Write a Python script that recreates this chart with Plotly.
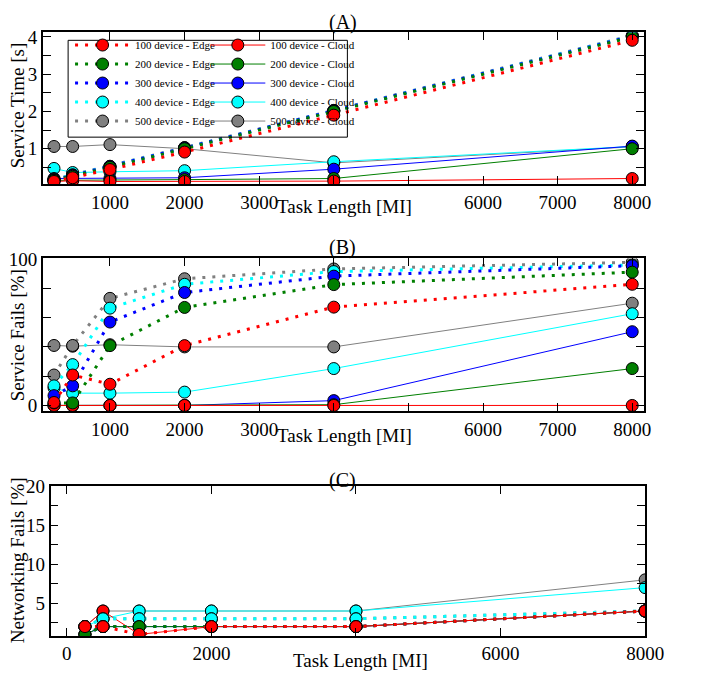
import plotly.graph_objects as go

# ---------------- data ----------------
task_length = [250, 500, 1000, 2000, 4000, 8000]
devices = ["100", "200", "300", "400", "500"]
colors = {"100": "#ff0000", "200": "#007f00", "300": "#0000ff", "400": "#00ffff", "500": "#808080"}

# (A) Service Time [s]
time_edge_100 = [0.12, 0.22, 0.44, 0.91, 1.90, 3.91]
time_edge_200 = [0.15, 0.26, 0.50, 1.00, 2.00, 4.00]
time_edge_300 = [0.16, 0.28, 0.52, 1.02, 2.02, 4.02]
time_edge_400 = [0.17, 0.29, 0.52, 1.02, 2.02, 4.03]
time_edge_500 = [0.18, 0.30, 0.53, 1.03, 2.03, 4.04]
time_cloud_100 = [0.12, 0.14, 0.12, 0.12, 0.13, 0.20]
time_cloud_200 = [0.15, 0.16, 0.16, 0.17, 0.20, 1.00]
time_cloud_300 = [0.20, 0.20, 0.20, 0.22, 0.45, 1.07]
time_cloud_400 = [0.47, 0.36, 0.38, 0.41, 0.65, 1.06]
time_cloud_500 = [1.06, 1.06, 1.11, 1.00, 0.62, 1.05]

# (B) Service Fails [%]
fail_edge_100 = [2.0, 20.8, 14.5, 40.9, 67.2, 82.8]
fail_edge_200 = [1.7, 1.7, 40.9, 67.0, 82.6, 91.1]
fail_edge_300 = [6.7, 13.4, 57.0, 77.2, 88.4, 95.5]
fail_edge_400 = [13.4, 27.9, 66.5, 82.8, 91.5, 96.0]
fail_edge_500 = [20.8, 41.0, 73.2, 86.6, 93.3, 97.8]
fail_cloud_100 = [0, 0, 0, 0, 0, 0]
fail_cloud_200 = [0, 0, 0, 0, 0.5, 25.2]
fail_cloud_300 = [0, 0, 0, 0, 3.3, 50.4]
fail_cloud_400 = [12.0, 8.4, 8.4, 9.1, 25.2, 62.7]
fail_cloud_500 = [41.0, 40.5, 41.5, 40.0, 40.0, 69.9]

# (C) Networking Fails [%]
net_edge_100 = [2, 2, 1, 2, 2, 4]
net_edge_200 = [1, 2, 2, 2, 2, 4]
net_edge_300 = [1, 2, 2, 2, 2, 4]
net_edge_400 = [2, 3, 3, 3, 3, 4]
net_edge_500 = [2, 3, 3, 3, 3, 4]
net_cloud_100 = [2, 4, 1, 2, 2, 4]
net_cloud_200 = [1, 2, 2, 2, 2, 4]
net_cloud_300 = [1, 2, 2, 2, 2, 4]
net_cloud_400 = [2, 3, 4, 4, 4, 7]
net_cloud_500 = [2, 4, 4, 4, 4, 8]

panels = {
    "A": ({"100": time_edge_100, "200": time_edge_200, "300": time_edge_300, "400": time_edge_400, "500": time_edge_500},
          {"100": time_cloud_100, "200": time_cloud_200, "300": time_cloud_300, "400": time_cloud_400, "500": time_cloud_500}),
    "B": ({"100": fail_edge_100, "200": fail_edge_200, "300": fail_edge_300, "400": fail_edge_400, "500": fail_edge_500},
          {"100": fail_cloud_100, "200": fail_cloud_200, "300": fail_cloud_300, "400": fail_cloud_400, "500": fail_cloud_500}),
    "C": ({"100": net_edge_100, "200": net_edge_200, "300": net_edge_300, "400": net_edge_400, "500": net_edge_500},
          {"100": net_cloud_100, "200": net_cloud_200, "300": net_cloud_300, "400": net_cloud_400, "500": net_cloud_500}),
}
axes_ref = {"A": ("x", "y"), "B": ("x2", "y2"), "C": ("x3", "y3")}

FONT = "Liberation Serif"
W, H = 705, 683

fig = go.Figure()

for key, (edge, cloud) in panels.items():
    xa, ya = axes_ref[key]
    show = key == "A"
    for d in reversed(devices):
        fig.add_trace(go.Scatter(
            x=task_length, y=cloud[d], xaxis=xa, yaxis=ya, mode="lines+markers",
            name=f"{d} device - Cloud", legend="legend2", showlegend=show,
            line=dict(color=colors[d], width=1),
            marker=dict(size=12, color=colors[d], line=dict(color="black", width=1)),
        ))
    for d in reversed(devices):
        fig.add_trace(go.Scatter(
            x=task_length, y=edge[d], xaxis=xa, yaxis=ya, mode="lines+markers",
            name=f"{d} device - Edge", legend="legend", showlegend=show,
            line=dict(color=colors[d], width=3, dash="3px,7px"),
            marker=dict(size=12, color=colors[d], line=dict(color="black", width=1)),
        ))


def px_x(p):
    return p / W


def px_y(p):
    return 1 - p / H


def yticks(vals, labels):
    return dict(tickvals=vals, ticktext=labels)


common_axis = dict(showline=True, linecolor="black", linewidth=1.5, mirror="ticks",
                   ticks="inside", ticklen=8, tickcolor="black", tickwidth=1.2,
                   showgrid=False, zeroline=False,
                   tickfont=dict(family=FONT, size=19, color="black"))

xt_ab = [1000, 2000, 3000, 4000, 5000, 6000, 7000, 8000]
xl_ab = ["1000", "2000", "3000", "", "", "6000", "7000", "8000"]

ya_vals = [0.5, 1, 1.5, 2, 2.5, 3, 3.5, 4]
ya_text = ["", "1", "", "2", "", "3", "", "4"]
yb_vals = [0, 20, 40, 60, 80, 100]
yb_text = ["0", "", "", "", "", "100"]
yc_vals = [2.5, 5, 7.5, 10, 12.5, 15, 17.5, 20]
yc_text = ["", "5", "", "10", "", "15", "", "20"]
xc_vals = [0, 2000, 4000, 6000, 8000]
xc_text = ["0", "2000", "", "6000", "8000"]

fig.update_layout(
    width=W, height=H,
    margin=dict(l=0, r=0, t=0, b=0),
    paper_bgcolor="white", plot_bgcolor="white",
    font=dict(family=FONT, color="black"),
    xaxis=dict(domain=[px_x(44), px_x(662)], range=[100, 8160], anchor="y",
               tickvals=xt_ab, ticktext=xl_ab, **common_axis),
    yaxis=dict(domain=[px_y(178), px_y(23)], range=[0.05, 4.12], anchor="x",
               **yticks(ya_vals, ya_text), **common_axis),
    xaxis2=dict(domain=[px_x(44), px_x(662)], range=[100, 8160], anchor="y2",
                tickvals=xt_ab, ticktext=xl_ab, **common_axis),
    yaxis2=dict(domain=[px_y(410), px_y(254)], range=[-3.8, 100.5], anchor="x2",
                **yticks(yb_vals, yb_text), **common_axis),
    xaxis3=dict(domain=[px_x(52), px_x(663)], range=[-225, 8000], anchor="y3",
                tickvals=xc_vals, ticktext=xc_text, **common_axis),
    yaxis3=dict(domain=[px_y(640), px_y(487)], range=[0.8, 20], anchor="x3",
                **yticks(yc_vals, yc_text), **common_axis),
    legend=dict(x=px_x(72), y=px_y(21), xanchor="left", yanchor="top",
                traceorder="reversed", bgcolor="rgba(0,0,0,0)", tracegroupgap=0,
                font=dict(family=FONT, size=11, color="black"), itemwidth=55),
    legend2=dict(x=px_x(211), y=px_y(21), xanchor="left", yanchor="top",
                 traceorder="reversed", bgcolor="rgba(0,0,0,0)", tracegroupgap=0,
                 font=dict(family=FONT, size=11, color="black"), itemwidth=55),
    showlegend=True,
)

fig.add_shape(type="rect", xref="paper", yref="paper",
              x0=px_x(70), x1=px_x(357), y0=px_y(130), y1=px_y(31),
              line=dict(color="black", width=1), fillcolor="rgba(0,0,0,0)", layer="above")

ann = [
    ("(A)", 352, 13, 0, 20), ("(B)", 352, 243, 0, 20), ("(C)", 352, 481, 0, 20),
    ("Task Length [MI]", 354, 201, 0, 19), ("Task Length [MI]", 354, 435, 0, 19),
    ("Task Length [MI]", 370, 665, 0, 19),
    ("Service Time [s]", 18, 98, -90, 19), ("Service Fails [%]", 18, 333, -90, 19),
    ("Networking Fails [%]", 18, 563, -90, 19),
]
for text, x, y, ang, size in ann:
    fig.add_annotation(text=text, x=px_x(x), y=px_y(y), xref="paper", yref="paper",
                       showarrow=False, textangle=ang, xanchor="center", yanchor="middle",
                       font=dict(family=FONT, size=size, color="black"))

fig.write_html("out.html", config={"displayModeBar": False},
               post_script="document.body.style.margin='0';document.body.style.overflow='hidden';")
